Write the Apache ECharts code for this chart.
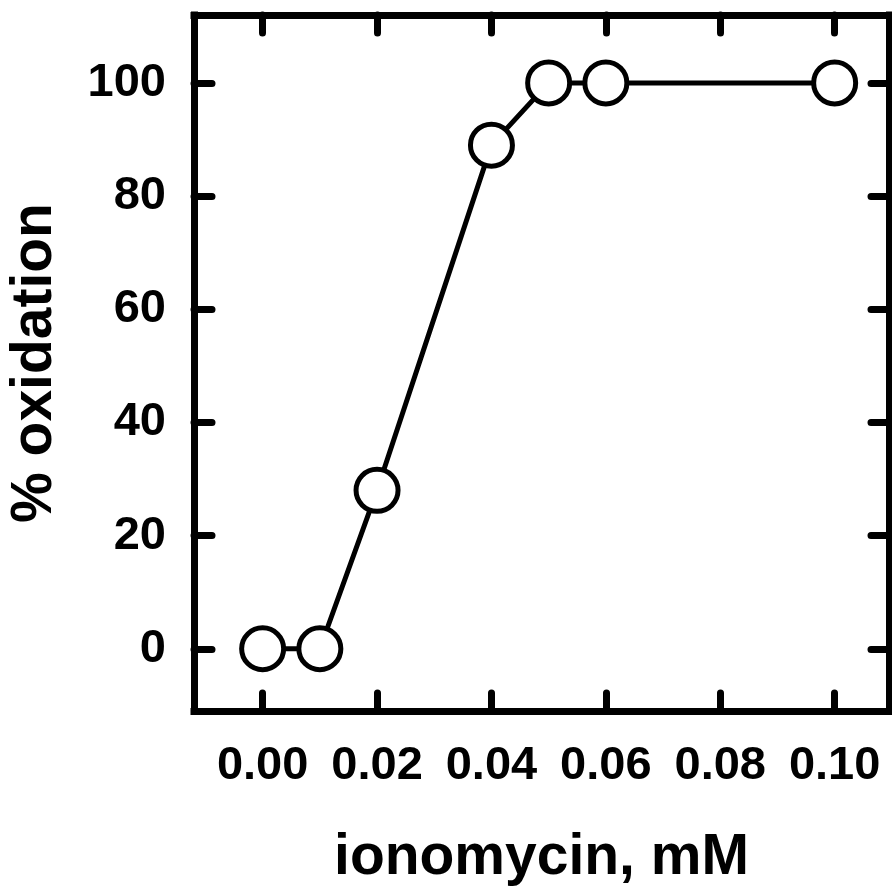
<!DOCTYPE html>
<html>
<head>
<meta charset="utf-8">
<script src="https://cdn.jsdelivr.net/npm/echarts@6/dist/echarts.min.js"></script>
<style>
  html, body { margin: 0; padding: 0; background: #fff; }
  #main { width: 892px; height: 886px; }
</style>
</head>
<body>
<div id="main"></div>
<script>
  // ionomycin dose (mM) vs % oxidation
  var doses = [0.00, 0.01, 0.02, 0.04, 0.05, 0.06, 0.10];
  var oxidation = [0, 0, 28, 89, 100, 100, 100];
  var xTicks = [0.00, 0.02, 0.04, 0.06, 0.08, 0.10];
  var yTicks = [0, 20, 40, 60, 80, 100];

  var chartDom = document.getElementById("main");
  var myChart = echarts.init(chartDom);

  var font = "'Liberation Sans', Arial, sans-serif";
  var lineStyle = { color: "#000", width: 7, cap: "square" };
  var tickStyle = { color: "#000", width: 7, cap: "round" };

  function xAxisBox(pos, showLabel) {
    return {
      type: "value",
      position: pos,
      min: -0.012,
      max: 0.1095,
      splitLine: { show: false },
      axisLine: { show: true, onZero: false, lineStyle: lineStyle },
      axisTick: { show: true, inside: true, length: 18, lineStyle: tickStyle, customValues: xTicks },
      axisLabel: {
        show: showLabel,
        customValues: xTicks,
        margin: 32,
        color: "#000",
        fontFamily: font,
        fontWeight: "bold",
        fontSize: 47,
        formatter: function (v) { return v.toFixed(2); }
      }
    };
  }

  function yAxisBox(pos, showLabel) {
    return {
      type: "value",
      position: pos,
      min: -11,
      max: 112,
      splitLine: { show: false },
      axisLine: { show: true, onZero: false, lineStyle: lineStyle },
      axisTick: { show: true, inside: true, length: 18, lineStyle: tickStyle, customValues: yTicks },
      axisLabel: {
        show: showLabel,
        customValues: yTicks,
        margin: 28,
        color: "#000",
        fontFamily: font,
        fontWeight: "bold",
        fontSize: 47
      }
    };
  }

  var xBottom = xAxisBox("bottom", true);
  xBottom.name = "ionomycin, mM";
  xBottom.nameLocation = "middle";
  xBottom.nameGap = 119;
  xBottom.nameTextStyle = { color: "#000", fontFamily: font, fontWeight: "bold", fontSize: 57 };

  var yLeft = yAxisBox("left", true);
  yLeft.name = "% oxidation";
  yLeft.nameLocation = "middle";
  yLeft.nameGap = 130;
  yLeft.nameTextStyle = { color: "#000", fontFamily: font, fontWeight: "bold", fontSize: 57 };

  var option = {
    backgroundColor: "#fff",
    animation: false,
    grid: { left: 194, right: 3, top: 15, bottom: 175, containLabel: false, outerBoundsMode: "none" },
    xAxis: [xBottom, xAxisBox("top", false)],
    yAxis: [yLeft, yAxisBox("right", false)],
    series: [
      {
        type: "line",
        data: doses.map(function (d, i) { return [d, oxidation[i]]; }),
        symbol: "circle",
        symbolSize: 42,
        showAllSymbol: true,
        lineStyle: { color: "#000", width: 5 },
        itemStyle: { color: "#fff", borderColor: "#000", borderWidth: 5 },
        z: 3
      }
    ]
  };

  myChart.setOption(option);
</script>
</body>
</html>
